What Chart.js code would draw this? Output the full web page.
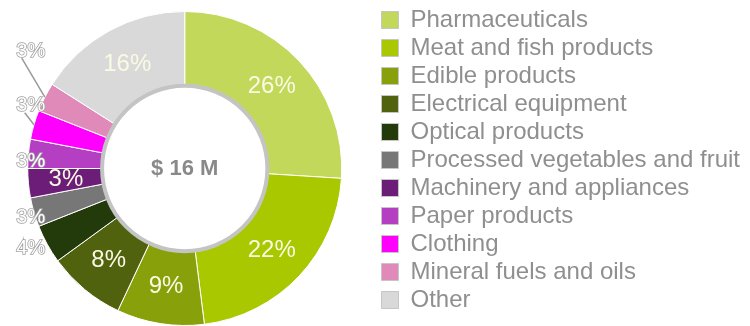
<!DOCTYPE html>
<html>
<head>
<meta charset="utf-8">
<script src="https://cdn.jsdelivr.net/npm/chart.js@4.4.1/dist/chart.umd.min.js"></script>
<style>
  html, body { margin: 0; padding: 0; background: #fff; }
  canvas { display: block; }
</style>
</head>
<body>
<canvas id="exportChart" width="750" height="326"></canvas>
<script>
const categories = [
  'Pharmaceuticals',
  'Meat and fish products',
  'Edible products',
  'Electrical equipment',
  'Optical products',
  'Processed vegetables and fruit',
  'Machinery and appliances',
  'Paper products',
  'Clothing',
  'Mineral fuels and oils',
  'Other',
];
const shares = [26, 22, 9, 8, 4, 3, 3, 3, 3, 3, 16];
const sliceColors = [
  '#c2d85a', '#a9c800', '#88a00a', '#51620f', '#233a0b', '#777777',
  '#6c1d78', '#b43fc2', '#ff00ff', '#e08ab9', '#d9d9d9',
];
const totalLabel = '$ 16 M';

// small slices get their label outside the ring; value = vertical shift in px
const outsideLabels = { 4: 4, 5: 5, 7: 8, 8: -19, 9: -46 };

const labelFont = '"Liberation Sans", Arial, sans-serif';

// pull the ring a little left and down, under the legend column
const ringArea = {
  id: 'ringArea',
  afterLayout(chart) {
    const a = chart.chartArea;
    a.left -= 8;
    a.bottom += 7;
    a.width = a.right - a.left;
    a.height = a.bottom - a.top;
  }
};

const ringLabels = {
  id: 'ringLabels',
  afterDatasetsDraw(chart) {
    const ctx = chart.ctx;
    const meta = chart.getDatasetMeta(0);
    const first = meta.data[0];
    const cx = first.x;
    const cy = first.y;
    const inner = first.innerRadius;
    const outer = first.outerRadius;

    ctx.save();
    // hub: white disc with a grey rim
    ctx.beginPath();
    ctx.arc(cx, cy, inner + 1, 0, Math.PI * 2);
    ctx.fillStyle = '#fff';
    ctx.fill();
    ctx.lineWidth = 4;
    ctx.strokeStyle = '#c4c4c4';
    ctx.stroke();

    ctx.textAlign = 'center';
    ctx.textBaseline = 'middle';
    ctx.fillStyle = '#898989';
    ctx.font = 'bold 22px ' + labelFont;
    ctx.fillText(totalLabel, cx, cy);

    meta.data.forEach((arc, i) => {
      const text = shares[i] + '%';
      const mid = (arc.startAngle + arc.endAngle) / 2;
      if (i in outsideLabels) {
        const ex = cx + Math.cos(mid) * outer;
        const ey = cy + Math.sin(mid) * outer;
        const lx = cx - outer + 3;
        const ly = ey + outsideLabels[i];
        if (Math.abs(outsideLabels[i]) > 12) {
          ctx.beginPath();
          ctx.moveTo(lx - (i === 9 ? 9 : 6), ly + 7);
          ctx.lineTo(ex, ey);
          ctx.lineWidth = 1.5;
          ctx.strokeStyle = '#9a9a9a';
          ctx.stroke();
        }
        ctx.font = '20px ' + labelFont;
        ctx.lineWidth = 1.6;
        ctx.strokeStyle = '#a3a3a3';
        ctx.strokeText(text, lx, ly);
        ctx.fillStyle = '#fff';
        ctx.fillText(text, lx, ly);
      } else {
        const p = arc.tooltipPosition();
        ctx.font = '24px ' + labelFont;
        ctx.fillStyle = '#fafae4';
        ctx.fillText(text, p.x, p.y);
      }
    });
    ctx.restore();
  }
};

new Chart(document.getElementById('exportChart'), {
  type: 'doughnut',
  data: {
    labels: categories,
    datasets: [{
      data: shares,
      backgroundColor: sliceColors,
      borderColor: '#fff',
      borderWidth: 1,
      radius: 157,
      cutout: '52%',
    }]
  },
  options: {
    responsive: false,
    animation: false,
    layout: {
      padding: { top: 4, bottom: 0, left: 0, right: 0 }
    },
    plugins: {
      tooltip: { enabled: false },
      legend: {
        position: 'right',
        align: 'start',
        labels: {
          boxWidth: 17,
          boxHeight: 17,
          padding: 4,
          color: '#8f8f8f',
          font: { family: labelFont, size: 24 },
          generateLabels(chart) {
            const base = Chart.overrides.doughnut.plugins.legend.labels.generateLabels(chart);
            return base.map(item => ({ ...item, strokeStyle: '#c6c6c6', lineWidth: 1 }));
          }
        }
      }
    }
  },
  plugins: [ringArea, ringLabels]
});
</script>
</body>
</html>
